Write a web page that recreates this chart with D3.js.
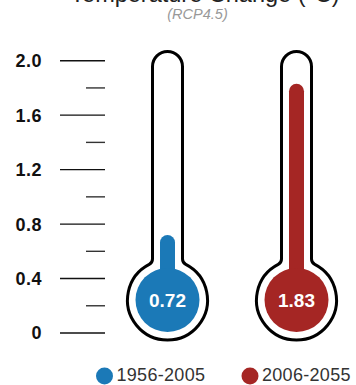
<!DOCTYPE html>
<html>
<head>
<meta charset="utf-8">
<script src="https://cdn.jsdelivr.net/npm/d3@7"></script>
<style>
  html, body { margin: 0; padding: 0; background: #fff; }
  svg { display: block; font-family: "Liberation Sans", Arial, Helvetica, sans-serif; }
</style>
</head>
<body>
<svg id="chart" width="356" height="385"></svg>
<script>
// Temperature change by period
const periods = ["1956-2005", "2006-2055"];
const changes = [0.72, 1.83];
const colors = ["#1b79b7", "#a52624"];
const majorTicks = [0, 0.4, 0.8, 1.2, 1.6, 2.0];
const minorTicks = [0.2, 0.6, 1.0, 1.4, 1.8];
const title = "Temperature Change (°C)";
const subtitle = "(RCP4.5)";

const svg = d3.select("#chart");

const y = d3.scaleLinear().domain([0, 2]).range([333, 60.7]);
const x = d3.scalePoint().domain(periods).range([167.5, 296.5]);

// Title (runs past the top edge) and subtitle
svg.append("text")
  .attr("x", 205).attr("y", 2)
  .attr("text-anchor", "middle")
  .attr("font-size", 23.5)
  .attr("fill", "#222")
  .text(title);

svg.append("text")
  .attr("x", 197.5).attr("y", 19)
  .attr("text-anchor", "middle")
  .attr("font-size", 14.5)
  .attr("font-style", "italic")
  .attr("fill", "#999")
  .text(subtitle);

// Scale: long ticks with labels, short ticks between them
const axis = svg.append("g");
axis.selectAll("line.major").data(majorTicks).join("line")
  .attr("class", "major")
  .attr("x1", 60).attr("x2", 105)
  .attr("y1", d => y(d)).attr("y2", d => y(d))
  .attr("stroke", "#111").attr("stroke-width", 1.4);
axis.selectAll("line.minor").data(minorTicks).join("line")
  .attr("class", "minor")
  .attr("x1", 86).attr("x2", 105)
  .attr("y1", d => y(d)).attr("y2", d => y(d))
  .attr("stroke", "#333").attr("stroke-width", 1.4);
axis.selectAll("text").data(majorTicks).join("text")
  .attr("x", 42).attr("y", d => y(d))
  .attr("dy", "0.36em")
  .attr("text-anchor", "end")
  .attr("font-size", 18)
  .attr("font-weight", "bold")
  .attr("letter-spacing", 0.5)
  .attr("fill", "#111")
  .text(d => d === 0 ? "0" : d3.format(".1f")(d));

// Thermometer outline: tube with rounded top joined to a round bulb by small fillets
const tubeHalf = 15;     // centerline half-width of the glass tube
const bulbR = 40;        // centerline radius of the bulb
const bulbCy = 300;
const tubeTopCy = 66.5;
const fillet = 6;

function outline(cx) {
  const dx = tubeHalf + fillet;
  const dy = Math.sqrt((bulbR + fillet) ** 2 - dx ** 2);
  const fy = bulbCy - dy;                       // fillet centre y
  const k = bulbR / (bulbR + fillet);
  const px = dx * k, py = bulbCy - dy * k;      // tangent point on the bulb
  return [
    `M${cx - tubeHalf},${tubeTopCy}`,
    `A${tubeHalf},${tubeHalf} 0 0 1 ${cx + tubeHalf},${tubeTopCy}`,
    `L${cx + tubeHalf},${fy}`,
    `A${fillet},${fillet} 0 0 0 ${cx + px},${py}`,
    `A${bulbR},${bulbR} 0 1 1 ${cx - px},${py}`,
    `A${fillet},${fillet} 0 0 0 ${cx - tubeHalf},${fy}`,
    "Z"
  ].join(" ");
}

const data = periods.map((p, i) => ({ period: p, value: changes[i], color: colors[i] }));

const therm = svg.selectAll("g.therm").data(data).join("g").attr("class", "therm");

therm.append("path")
  .attr("d", d => outline(x(d.period)))
  .attr("fill", "#fff")
  .attr("stroke", "#000")
  .attr("stroke-width", 3);

// Liquid column: rounded top at the value
const colW = 15;
therm.append("rect")
  .attr("x", d => x(d.period) - colW / 2)
  .attr("width", colW)
  .attr("y", d => y(d.value))
  .attr("height", d => bulbCy - y(d.value))
  .attr("rx", colW / 2)
  .attr("fill", d => d.color);

therm.append("circle")
  .attr("cx", d => x(d.period))
  .attr("cy", bulbCy)
  .attr("r", 32)
  .attr("fill", d => d.color);

therm.append("text")
  .attr("x", d => x(d.period))
  .attr("y", bulbCy)
  .attr("dy", "0.36em")
  .attr("text-anchor", "middle")
  .attr("font-size", 19)
  .attr("font-weight", "bold")
  .attr("fill", "#fff")
  .text(d => d3.format(".2f")(d.value));

// Legend
const legendX = [104.5, 250];
const legend = svg.selectAll("g.legend").data(data).join("g")
  .attr("class", "legend")
  .attr("transform", (d, i) => `translate(${legendX[i]},376)`);
legend.append("circle").attr("r", 8.5).attr("fill", d => d.color);
legend.append("text")
  .attr("x", 12).attr("y", -1).attr("dy", "0.36em")
  .attr("font-size", 18)
  .attr("letter-spacing", 0.3)
  .attr("fill", "#333")
  .text(d => d.period);
</script>
</body>
</html>
